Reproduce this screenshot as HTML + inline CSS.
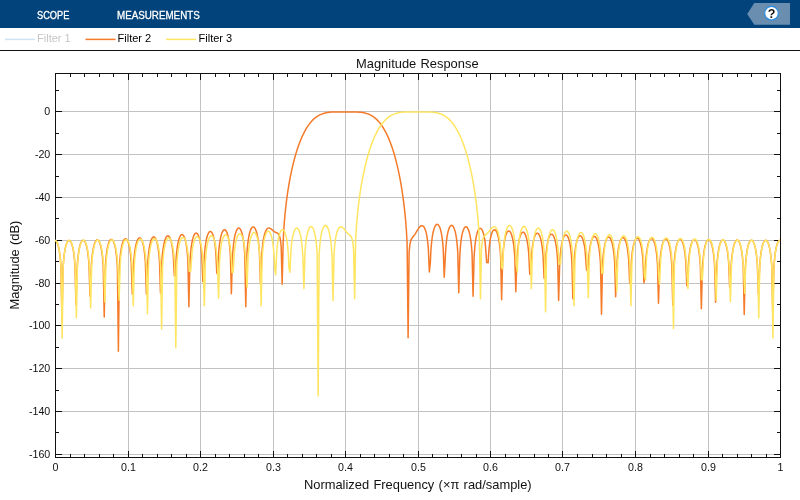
<!DOCTYPE html>
<html><head><meta charset="utf-8"><title>Magnitude Response</title>
<style>
html,body{margin:0;padding:0;}
body{width:800px;height:500px;background:#fff;overflow:hidden;position:relative;font-family:"Liberation Sans",sans-serif;}
#bar{position:absolute;left:0;top:0;width:800px;height:27.5px;background:#01437a;will-change:transform;}
.tab{position:absolute;top:8.5px;color:#fff;font-size:10.5px;line-height:12px;white-space:nowrap;transform-origin:0 50%;-webkit-text-stroke:0.3px #fff;}
#leg{position:absolute;left:0;top:27.5px;width:800px;height:22px;background:#fff;}
#sep{position:absolute;left:0;top:49.75px;width:800px;height:1.1px;background:#111;}
svg{position:absolute;left:0;top:0;will-change:transform;}
text{font-family:"Liberation Sans",sans-serif;}
</style></head><body>
<div id="bar">
<div class="tab" style="left:37.1px;transform:scaleX(0.88)">SCOPE</div>
<div class="tab" style="left:117px;transform:scaleX(0.933)">MEASUREMENTS</div>
</div>
<div id="leg"></div>
<div id="sep"></div>
<svg width="800" height="500" viewBox="0 0 800 500">
<!-- help tag -->
<path d="M747.2,13.9 L754.3,3 H790 V24.8 H754.3 Z" fill="#6a8eb0"/>
<circle cx="771.5" cy="13.2" r="6.8" fill="#fff" stroke="#2a8be0" stroke-width="1.2"/>
<text x="771.5" y="17.6" font-size="12.5" font-weight="bold" text-anchor="middle" fill="#111">?</text>
<!-- legend -->
<g font-size="11" >
<path d="M5,39.4 H35" stroke="#cfe3f6" stroke-width="1.5"/>
<text x="37.1" y="42.1" fill="#c6c6c6">Filter 1</text>
<path d="M85.5,39.4 H115.5" stroke="#f57a29" stroke-width="1.5"/>
<text x="117.6" y="42.1" fill="#000">Filter 2</text>
<path d="M166,39.4 H196" stroke="#ffe560" stroke-width="1.5"/>
<text x="198.6" y="42.1" fill="#000">Filter 3</text>
</g>
<!-- title/labels -->
<text x="417.3" y="67.7" font-size="12.9" word-spacing="0.7" text-anchor="middle" fill="#111">Magnitude Response</text>
<text x="417.8" y="488.8" font-size="12.9" word-spacing="0.7" text-anchor="middle" fill="#111">Normalized Frequency (×π rad/sample)</text>
<text transform="translate(19,265) rotate(-90)" font-size="12.9" word-spacing="0.7" text-anchor="middle" fill="#111">Magnitude (dB)</text>
<!-- grid -->
<path d="M128.5,73.5 V457.5 M200.5,73.5 V457.5 M273.5,73.5 V457.5 M345.5,73.5 V457.5 M418.5,73.5 V457.5 M490.5,73.5 V457.5 M562.5,73.5 V457.5 M635.5,73.5 V457.5 M708.5,73.5 V457.5 M55.5,111.5 H780.5 M55.5,154.5 H780.5 M55.5,197.5 H780.5 M55.5,240.5 H780.5 M55.5,283.5 H780.5 M55.5,325.5 H780.5 M55.5,368.5 H780.5 M55.5,411.5 H780.5 M55.5,454.5 H780.5" stroke="#c3c3c3" stroke-width="1" fill="none"/>
<path d="M70.5,457.5 v-3.5 M70.5,73.5 v3.5 M84.5,457.5 v-3.5 M84.5,73.5 v3.5 M99.5,457.5 v-3.5 M99.5,73.5 v3.5 M113.5,457.5 v-3.5 M113.5,73.5 v3.5 M128.5,457.5 v-6.5 M128.5,73.5 v6.5 M142.5,457.5 v-3.5 M142.5,73.5 v3.5 M157.5,457.5 v-3.5 M157.5,73.5 v3.5 M171.5,457.5 v-3.5 M171.5,73.5 v3.5 M186.5,457.5 v-3.5 M186.5,73.5 v3.5 M200.5,457.5 v-6.5 M200.5,73.5 v6.5 M215.5,457.5 v-3.5 M215.5,73.5 v3.5 M229.5,457.5 v-3.5 M229.5,73.5 v3.5 M244.5,457.5 v-3.5 M244.5,73.5 v3.5 M258.5,457.5 v-3.5 M258.5,73.5 v3.5 M273.5,457.5 v-6.5 M273.5,73.5 v6.5 M287.5,457.5 v-3.5 M287.5,73.5 v3.5 M302.5,457.5 v-3.5 M302.5,73.5 v3.5 M316.5,457.5 v-3.5 M316.5,73.5 v3.5 M331.5,457.5 v-3.5 M331.5,73.5 v3.5 M345.5,457.5 v-6.5 M345.5,73.5 v6.5 M360.5,457.5 v-3.5 M360.5,73.5 v3.5 M374.5,457.5 v-3.5 M374.5,73.5 v3.5 M389.5,457.5 v-3.5 M389.5,73.5 v3.5 M403.5,457.5 v-3.5 M403.5,73.5 v3.5 M418.5,457.5 v-6.5 M418.5,73.5 v6.5 M432.5,457.5 v-3.5 M432.5,73.5 v3.5 M447.5,457.5 v-3.5 M447.5,73.5 v3.5 M461.5,457.5 v-3.5 M461.5,73.5 v3.5 M476.5,457.5 v-3.5 M476.5,73.5 v3.5 M490.5,457.5 v-6.5 M490.5,73.5 v6.5 M505.5,457.5 v-3.5 M505.5,73.5 v3.5 M519.5,457.5 v-3.5 M519.5,73.5 v3.5 M534.5,457.5 v-3.5 M534.5,73.5 v3.5 M548.5,457.5 v-3.5 M548.5,73.5 v3.5 M562.5,457.5 v-6.5 M562.5,73.5 v6.5 M577.5,457.5 v-3.5 M577.5,73.5 v3.5 M592.5,457.5 v-3.5 M592.5,73.5 v3.5 M606.5,457.5 v-3.5 M606.5,73.5 v3.5 M621.5,457.5 v-3.5 M621.5,73.5 v3.5 M635.5,457.5 v-6.5 M635.5,73.5 v6.5 M650.5,457.5 v-3.5 M650.5,73.5 v3.5 M664.5,457.5 v-3.5 M664.5,73.5 v3.5 M679.5,457.5 v-3.5 M679.5,73.5 v3.5 M693.5,457.5 v-3.5 M693.5,73.5 v3.5 M708.5,457.5 v-6.5 M708.5,73.5 v6.5 M722.5,457.5 v-3.5 M722.5,73.5 v3.5 M737.5,457.5 v-3.5 M737.5,73.5 v3.5 M751.5,457.5 v-3.5 M751.5,73.5 v3.5 M766.5,457.5 v-3.5 M766.5,73.5 v3.5 M55.5,90.5 h3.5 M780.5,90.5 h-3.5 M55.5,111.5 h6.5 M780.5,111.5 h-6.5 M55.5,133.5 h3.5 M780.5,133.5 h-3.5 M55.5,154.5 h6.5 M780.5,154.5 h-6.5 M55.5,176.5 h3.5 M780.5,176.5 h-3.5 M55.5,197.5 h6.5 M780.5,197.5 h-6.5 M55.5,218.5 h3.5 M780.5,218.5 h-3.5 M55.5,240.5 h6.5 M780.5,240.5 h-6.5 M55.5,261.5 h3.5 M780.5,261.5 h-3.5 M55.5,283.5 h6.5 M780.5,283.5 h-6.5 M55.5,304.5 h3.5 M780.5,304.5 h-3.5 M55.5,325.5 h6.5 M780.5,325.5 h-6.5 M55.5,347.5 h3.5 M780.5,347.5 h-3.5 M55.5,368.5 h6.5 M780.5,368.5 h-6.5 M55.5,390.5 h3.5 M780.5,390.5 h-3.5 M55.5,411.5 h6.5 M780.5,411.5 h-6.5 M55.5,432.5 h3.5 M780.5,432.5 h-3.5 M55.5,454.5 h6.5 M780.5,454.5 h-6.5" stroke="#111" stroke-width="1" fill="none"/>
<rect x="55.5" y="73.5" width="725.0" height="384.0" fill="none" stroke="#111" stroke-width="1"/>
<clipPath id="cp"><rect x="54.9" y="73.5" width="726.2" height="384.0"/></clipPath>
<g clip-path="url(#cp)" fill="none" stroke-linejoin="round" stroke-linecap="butt">
<path d="M55,240.55 L55.5,240.66 L55.9,240.93 L56.3,241.34 L56.7,241.92 L57.5,243.6 L58.3,246.12 L58.9,248.7 L59.5,252.1 L60,255.81 L60.5,260.75 L60.98,267.57 L61.98,321.83 L62.98,269.63 L63.3,264.37 L63.6,260.53 L64,256.5 L64.5,252.62 L65,249.6 L65.6,246.79 L66.2,244.64 L66.8,243.02 L67.5,241.67 L67.9,241.14 L68.4,240.7 L68.8,240.52 L69.3,240.5 L69.8,240.71 L70.2,241.05 L70.6,241.55 L71,242.21 L71.8,244.09 L72.5,246.46 L73.2,249.71 L73.8,253.47 L74.5,259.7 L74.98,266.04 L75.98,304.7 L76.98,271.19 L77.5,262.6 L78.1,256.18 L78.8,251.04 L79.6,246.95 L80.1,245.05 L80.6,243.53 L81,242.56 L81.5,241.6 L81.9,241.03 L82.4,240.54 L82.8,240.33 L83.3,240.26 L83.8,240.43 L84.2,240.73 L84.7,241.33 L85.1,242 L85.9,243.89 L86.7,246.68 L87.4,250.09 L87.9,253.32 L88.3,256.59 L88.7,260.74 L88.99,264.54 L89.99,296.12 L91,272.39 L91.4,264.9 L91.7,260.85 L92.1,256.63 L92.5,253.32 L93,250.04 L93.6,246.99 L94.3,244.33 L95.1,242.18 L95.5,241.4 L95.9,240.79 L96.3,240.34 L96.7,240.05 L97.1,239.91 L97.6,239.94 L98.1,240.2 L98.5,240.58 L98.9,241.12 L99.3,241.84 L99.9,243.26 L100.5,245.16 L101.1,247.67 L101.6,250.34 L102,253 L102.4,256.28 L102.8,260.47 L103.1,264.49 L103.23,266.5 L104.23,316.92 L105.23,269 L105.7,261.49 L106.3,255.17 L106.9,250.71 L107.6,246.92 L108.4,243.82 L108.8,242.64 L109.3,241.46 L109.7,240.72 L110.2,240.03 L110.7,239.59 L111.2,239.39 L111.7,239.42 L112.2,239.68 L112.7,240.19 L113.2,240.94 L113.9,242.47 L114.6,244.65 L115.2,247.15 L115.8,250.45 L116.3,254.06 L116.7,257.76 L117.1,262.58 L117.38,266.97 L118.38,351.22 L119.38,267.27 L119.5,265.13 L119.9,259.56 L120.4,254.5 L121,250.06 L121.7,246.27 L122.5,243.17 L123.3,241.02 L123.7,240.23 L124.2,239.49 L124.6,239.08 L125.1,238.79 L125.5,238.71 L125.9,238.79 L126.3,239.02 L126.6,239.29 L127.3,240.27 L128,241.79 L128.7,243.96 L129.3,246.47 L129.8,249.15 L130.3,252.57 L130.8,257.07 L131.26,262.77 L132.26,294 L133.3,270.11 L133.7,262.79 L134,258.79 L134.4,254.62 L134.9,250.62 L135.4,247.51 L136.1,244.2 L136.9,241.48 L137.7,239.62 L138.1,238.96 L138.6,238.37 L139,238.07 L139.5,237.91 L140,237.97 L140.4,238.19 L140.9,238.69 L141.3,239.26 L141.7,240.01 L142.1,240.95 L142.6,242.41 L143.1,244.27 L143.9,248.27 L144.6,253.31 L145.2,259.62 L145.38,262.06 L146.38,294 L147.5,267.19 L147.9,260.52 L148.4,254.72 L149.1,249.06 L149.5,246.62 L150,244.14 L150.5,242.15 L151,240.56 L151.5,239.3 L152.1,238.17 L152.5,237.63 L152.9,237.25 L153.3,237.02 L153.8,236.94 L154.3,237.09 L154.7,237.37 L155.1,237.82 L155.5,238.43 L156.3,240.19 L157,242.43 L157.6,245.02 L158.2,248.44 L158.9,254.01 L159.49,261.03 L160.49,292.94 L161.6,266.4 L161.9,261.11 L162.3,255.89 L162.9,250.27 L163.6,245.63 L164.4,241.87 L164.8,240.43 L165.3,238.96 L166,237.43 L166.4,236.8 L166.8,236.32 L167.1,236.07 L167.5,235.87 L167.9,235.81 L168.3,235.9 L168.7,236.14 L169.1,236.53 L169.8,237.61 L170.5,239.26 L171.1,241.2 L171.7,243.75 L172.3,247.13 L172.8,250.83 L173.2,254.66 L173.3,255.82 L174.32,275.83 L175.33,275.74 L175.7,265.67 L176,260.25 L176.3,256.12 L177,249.23 L177.4,246.35 L177.9,243.45 L178.4,241.13 L179,238.94 L179.6,237.27 L180.3,235.87 L181,234.98 L181.3,234.75 L181.7,234.56 L182.1,234.53 L182.4,234.6 L182.8,234.82 L183.1,235.09 L183.8,236.07 L184.5,237.59 L185.1,239.41 L185.7,241.81 L186.2,244.38 L186.7,247.65 L187.1,250.98 L187.5,255.23 L187.87,260.5 L188.87,306.85 L189.87,263.55 L190.4,255.18 L191.1,248.13 L191.6,244.55 L192.1,241.73 L192.6,239.47 L193.2,237.33 L193.8,235.71 L194.5,234.34 L194.9,233.8 L195.3,233.41 L195.7,233.17 L196.1,233.08 L196.5,233.13 L196.9,233.34 L197.3,233.69 L197.6,234.06 L198,234.7 L198.4,235.52 L199.1,237.44 L199.7,239.68 L200.3,242.62 L200.7,245.11 L201.1,248.16 L201.79,255.51 L202.79,281.4 L203.79,267.51 L204.1,260.5 L204.4,255.66 L204.7,251.87 L205.1,247.88 L205.7,243.34 L206.4,239.46 L207.2,236.27 L207.6,235.04 L208.1,233.81 L208.8,232.55 L209.2,232.06 L209.6,231.72 L210,231.53 L210.4,231.48 L210.8,231.58 L211.2,231.83 L211.6,232.24 L212,232.81 L212.7,234.22 L213.4,236.26 L214,238.63 L214.5,241.16 L215,244.39 L215.4,247.67 L215.83,252.16 L216.83,273.28 L217.83,270.03 L218.3,258.4 L218.9,249.95 L219.3,246.01 L219.7,242.88 L220.2,239.73 L220.7,237.23 L221.3,234.86 L221.9,233.04 L222.6,231.48 L223.3,230.45 L223.6,230.15 L224,229.89 L224.4,229.77 L224.8,229.8 L225.2,229.98 L225.5,230.21 L226.2,231.09 L226.8,232.26 L227.4,233.87 L227.9,235.62 L228.4,237.81 L228.9,240.57 L229.3,243.33 L230,249.95 L230.37,254.94 L231.37,293.79 L232.37,259.81 L232.9,250.96 L233.6,243.7 L234.1,240.02 L234.7,236.63 L235.4,233.65 L236.1,231.45 L236.9,229.68 L237.3,229.06 L237.7,228.59 L238.1,228.28 L238.5,228.11 L239,228.1 L239.4,228.25 L239.8,228.55 L240.2,229.01 L240.6,229.62 L241,230.41 L241.7,232.25 L242.4,234.81 L243,237.74 L243.5,240.9 L244,245.01 L244.4,249.33 L244.78,254.82 L245.78,306.63 L246.78,257.04 L247.1,251.63 L247.4,247.76 L247.8,243.69 L248.2,240.47 L248.7,237.25 L249.3,234.24 L249.9,231.92 L250.5,230.14 L251.2,228.61 L251.6,227.97 L252.1,227.38 L252.5,227.08 L253,226.9 L253.5,226.93 L253.9,227.11 L254.4,227.53 L254.8,228.02 L255.6,229.49 L256.4,231.66 L257.1,234.28 L257.8,237.79 L258.3,241.05 L258.7,244.31 L259.1,248.39 L259.43,252.69 L260.43,283.16 L261.6,258.3 L261.9,253.25 L262.3,248.25 L262.9,242.86 L263.6,238.41 L264.4,234.8 L264.8,233.41 L265.3,231.97 L265.7,231.03 L266.2,230.07 L266.7,229.33 L267.2,228.77 L267.7,228.38 L268.3,228.12 L268.8,228.04 L269.4,228.09 L270.2,228.39 L271,228.87 L273.7,231.09 L274.7,231.81 L275.5,232.27 L277.1,233 L277.7,233.35 L278.4,233.98 L279,234.87 L279.4,235.74 L279.7,236.61 L280.3,239.13 L280.8,242.52 L281.16,246.23 L282.16,284.19 L283.16,242.46 L283.5,235.03 L284,226.72 L284.7,217.71 L285.5,209.45 L286.5,200.87 L287.7,192.18 L289.1,183.51 L290.7,174.97 L292.4,167.09 L294.2,159.8 L296.1,153.06 L298.1,146.85 L300.3,140.91 L302.3,136.21 L304.3,132.1 L306.5,128.2 L308.7,124.86 L309.8,123.39 L311,121.92 L312.2,120.59 L313.4,119.39 L314.6,118.31 L315.9,117.27 L317.2,116.35 L318.5,115.55 L320.9,114.35 L323.4,113.43 L326.1,112.74 L329.1,112.28 L331.9,112.04 L335.3,111.92 L350.8,111.89 L356.4,111.96 L360.5,112.24 L362.3,112.47 L364,112.77 L365.6,113.15 L367.2,113.63 L368.7,114.19 L370.2,114.86 L371.7,115.67 L373.1,116.56 L374.5,117.58 L375.8,118.66 L377.1,119.87 L378.3,121.12 L379.6,122.63 L380.9,124.3 L382.2,126.15 L383.4,128.02 L384.6,130.06 L385.8,132.29 L387,134.7 L388.1,137.1 L390.3,142.45 L392.4,148.36 L394.4,154.81 L396.3,161.82 L398.1,169.42 L399.7,177.13 L401.2,185.38 L402.5,193.59 L403.7,202.34 L404.8,211.84 L405.7,221.29 L406.4,230.51 L407.11,243.46 L408.11,337.84 L409.11,252.31 L409.6,246.95 L410,244.16 L410.5,241.79 L411,240.18 L411.7,238.66 L412.4,237.59 L414,235.58 L414.9,234.34 L417.9,229.42 L419,227.8 L419.7,226.96 L420.3,226.38 L420.9,225.96 L421.5,225.72 L421.9,225.67 L422.3,225.7 L422.7,225.84 L423.1,226.09 L423.5,226.44 L423.9,226.93 L424.6,228.1 L425.3,229.77 L425.9,231.68 L426.5,234.15 L427,236.79 L427.7,241.73 L428.34,248.41 L429.34,272.01 L430.34,262.71 L430.8,252.46 L431.1,247.97 L431.5,243.36 L431.9,239.76 L432.3,236.85 L432.7,234.44 L433.2,231.96 L433.9,229.27 L434.7,227.03 L435.5,225.52 L435.9,225 L436.3,224.63 L436.7,224.4 L437.2,224.31 L437.6,224.39 L438,224.61 L438.4,224.97 L438.8,225.48 L439.6,226.98 L440.1,228.28 L440.6,229.91 L441.4,233.38 L442.2,238.35 L442.8,243.67 L443.22,248.78 L444.22,277.22 L445.5,253.15 L445.8,248.44 L446.1,244.75 L446.5,240.87 L446.9,237.79 L447.4,234.72 L448,231.86 L448.7,229.37 L449.4,227.57 L449.8,226.81 L450.2,226.21 L450.6,225.77 L451,225.49 L451.4,225.34 L451.9,225.37 L452.3,225.55 L452.7,225.87 L453.1,226.35 L453.5,226.98 L454.1,228.25 L454.7,229.94 L455.3,232.15 L455.8,234.49 L456.3,237.4 L456.7,240.28 L457.4,247.17 L457.75,252.12 L458.75,292.66 L459.75,256.98 L460.3,248.17 L460.7,243.79 L461.1,240.39 L461.7,236.47 L462.4,233.11 L463.1,230.66 L463.9,228.7 L464.3,228.01 L464.7,227.48 L465.1,227.1 L465.6,226.85 L466.1,226.82 L466.5,226.95 L467,227.33 L467.4,227.8 L468.1,229.01 L468.7,230.48 L469.3,232.42 L469.9,234.93 L470.4,237.59 L470.9,240.94 L471.3,244.32 L471.7,248.61 L472.07,253.8 L473.07,296.3 L474.07,258.14 L474.4,252.35 L474.9,246.25 L475.6,240.42 L476.4,235.89 L476.9,233.8 L477.4,232.13 L478,230.6 L478.7,229.34 L479.4,228.59 L479.8,228.37 L480.2,228.3 L480.6,228.37 L480.9,228.51 L481.3,228.84 L481.6,229.18 L482.3,230.33 L483,232.02 L483.6,233.98 L484.2,236.52 L484.7,239.2 L485.2,242.63 L486.7,262.52 L488.2,262.66 L488.6,254.9 L489.2,247.4 L489.9,241.65 L490.3,239.2 L490.8,236.73 L491.3,234.75 L491.8,233.18 L492.4,231.74 L493,230.71 L493.6,230.05 L494.2,229.73 L494.5,229.7 L494.9,229.78 L495.5,230.17 L496.2,231.06 L496.9,232.45 L497.6,234.43 L498.2,236.69 L498.8,239.62 L499.3,242.75 L499.7,245.88 L500.1,249.81 L500.61,256.65 L501.61,299.73 L502.61,260.82 L503,254.19 L503.4,249.37 L503.8,245.67 L504.2,242.72 L504.7,239.78 L505.3,237.04 L505.9,234.96 L506.6,233.17 L507.3,231.95 L507.6,231.59 L508,231.24 L508.4,231.04 L508.9,230.99 L509.3,231.12 L509.7,231.39 L510.1,231.81 L510.5,232.39 L511.3,234.05 L512,236.15 L512.7,239.01 L513.3,242.27 L513.8,245.78 L514.3,250.38 L514.8,256.77 L515.8,291.8 L516.8,263.47 L517.2,256.27 L517.7,250.16 L518.4,244.33 L518.8,241.84 L519.3,239.33 L519.8,237.33 L520.3,235.73 L520.8,234.48 L521.4,233.36 L522.1,232.53 L522.5,232.26 L522.9,232.15 L523.3,232.18 L523.7,232.35 L524.1,232.67 L524.4,233.01 L525.1,234.15 L525.8,235.84 L526.4,237.79 L527,240.33 L527.5,243.03 L528,246.43 L528.4,249.88 L528.75,253.65 L529.75,274.17 L530.75,273.29 L531.2,261.7 L531.8,252.98 L532.2,248.99 L532.7,245.14 L533.2,242.16 L533.8,239.39 L534.4,237.27 L535,235.68 L535.7,234.36 L536.4,233.55 L536.7,233.35 L537.1,233.21 L537.5,233.21 L537.9,233.36 L538.3,233.65 L538.6,233.97 L539.3,235.07 L539.8,236.17 L540.3,237.58 L540.8,239.35 L541.2,241.06 L542,245.57 L542.6,250.31 L543.09,255.59 L544.09,278.27 L545.09,271.76 L545.5,261.97 L545.8,257.23 L546.2,252.46 L546.9,246.54 L547.7,241.94 L548.3,239.45 L548.9,237.55 L549.5,236.13 L550.2,234.98 L550.5,234.65 L550.9,234.33 L551.2,234.19 L551.6,234.14 L552,234.22 L552.3,234.38 L552.7,234.73 L553,235.08 L553.7,236.27 L554.3,237.73 L554.9,239.65 L555.5,242.16 L556,244.82 L556.4,247.44 L556.8,250.65 L557.2,254.7 L557.63,260.55 L558.63,300.59 L559.63,265.46 L559.9,260.53 L560.3,255.12 L561,248.6 L561.8,243.62 L562.3,241.33 L562.8,239.5 L563.4,237.8 L564,236.54 L564.4,235.93 L564.9,235.38 L565.3,235.11 L565.8,234.99 L566.3,235.09 L566.7,235.33 L567.2,235.84 L567.6,236.43 L568.1,237.4 L568.5,238.39 L569.3,241 L570,244.17 L570.6,247.8 L571.3,253.73 L571.87,261.03 L572.87,298.66 L573.87,266.7 L574.4,257.94 L574.9,252.45 L575.6,247.07 L576.4,242.82 L576.9,240.85 L577.4,239.28 L578,237.83 L578.7,236.66 L579,236.31 L579.4,235.98 L579.7,235.83 L580.1,235.75 L580.5,235.83 L580.8,235.97 L581.2,236.3 L581.5,236.65 L582.2,237.81 L582.9,239.51 L583.5,241.49 L584.1,244.07 L584.6,246.81 L585.1,250.26 L586.56,270.1 L588.02,270.17 L588.4,262.55 L588.9,255.86 L589.6,249.6 L590.4,244.78 L590.9,242.55 L591.4,240.77 L591.9,239.36 L592.5,238.08 L593.1,237.19 L593.7,236.65 L594.3,236.45 L594.9,236.57 L595.3,236.83 L595.7,237.24 L596.1,237.81 L596.5,238.55 L597.2,240.28 L597.9,242.67 L598.5,245.4 L599.1,248.98 L599.6,252.89 L600,256.94 L600.49,263.76 L601.49,314.34 L602.49,266.41 L603.1,257.28 L603.5,253.22 L604,249.31 L604.6,245.76 L605.2,243.06 L605.9,240.71 L606.6,239.02 L607,238.31 L607.4,237.77 L607.8,237.39 L608.2,237.15 L608.6,237.06 L609,237.12 L609.4,237.32 L609.8,237.66 L610.2,238.16 L610.6,238.83 L611.3,240.41 L612,242.63 L612.6,245.16 L613.2,248.46 L613.7,252.04 L614.2,256.75 L614.64,262.47 L615.64,296.74 L616.7,268.18 L617.1,261.3 L617.6,255.39 L618.3,249.68 L618.7,247.23 L619.2,244.75 L619.7,242.77 L620.2,241.19 L620.7,239.94 L621.3,238.83 L622,238 L622.4,237.74 L622.8,237.62 L623.2,237.65 L623.6,237.82 L624,238.14 L624.4,238.61 L625.1,239.83 L625.8,241.6 L626.5,244.05 L627.1,246.85 L627.6,249.83 L628,252.81 L628.7,260.04 L629.7,283.22 L630.7,275.45 L631,268.1 L631.3,262.86 L631.8,256.62 L632.3,252.15 L632.9,248.15 L633.6,244.71 L634.4,241.9 L635.2,239.97 L635.6,239.28 L636,238.76 L636.4,238.39 L636.8,238.18 L637.2,238.1 L637.6,238.18 L638,238.39 L638.4,238.76 L638.8,239.28 L639.2,239.96 L639.9,241.59 L640.6,243.86 L641.2,246.45 L641.7,249.2 L642.2,252.7 L642.6,256.25 L642.96,260.26 L643.96,282.8 L644.96,276.52 L645.4,266.14 L645.7,261.49 L646.1,256.8 L646.7,251.65 L647.5,246.85 L648.1,244.25 L648.7,242.26 L649.3,240.76 L650,239.54 L650.3,239.17 L650.7,238.81 L651,238.64 L651.4,238.54 L651.8,238.59 L652.2,238.77 L652.6,239.11 L652.9,239.46 L653.6,240.64 L654.2,242.09 L654.8,244.01 L655.4,246.51 L655.9,249.17 L656.3,251.8 L656.7,255.02 L657.1,259.1 L657.5,264.57 L658.5,303.19 L659.5,269.85 L659.8,264.43 L660.1,260.26 L660.5,255.96 L660.9,252.59 L661.5,248.69 L662.1,245.75 L662.8,243.17 L663.5,241.31 L663.9,240.52 L664.3,239.89 L664.7,239.43 L665.2,239.06 L665.6,238.93 L666.1,238.97 L666.5,239.17 L666.9,239.52 L667.6,240.49 L668.3,241.99 L668.9,243.76 L669.5,246.08 L670,248.54 L670.5,251.63 L670.9,254.73 L671.3,258.62 L671.79,265.14 L672.79,305.33 L673.79,269.93 L674.2,262.91 L674.7,257.03 L675.4,251.33 L676.2,246.87 L676.7,244.79 L677.2,243.13 L678,241.18 L678.4,240.48 L678.8,239.94 L679.2,239.56 L679.7,239.3 L680.2,239.26 L680.6,239.39 L681.1,239.77 L681.5,240.23 L681.9,240.86 L682.3,241.66 L683.1,243.83 L683.8,246.51 L684.4,249.56 L684.9,252.84 L685.4,257.11 L685.8,261.61 L686.82,285.8 L687.82,276.33 L688.2,267.62 L688.8,259.16 L689.4,253.62 L690.1,249.05 L690.6,246.6 L691.2,244.29 L691.8,242.54 L692.4,241.23 L693.1,240.2 L693.4,239.91 L693.8,239.65 L694.1,239.55 L694.5,239.55 L694.9,239.69 L695.2,239.89 L695.6,240.29 L696,240.84 L696.7,242.22 L697.4,244.18 L698,246.45 L698.6,249.39 L699.1,252.55 L699.5,255.73 L699.9,259.74 L700.36,266.01 L701.36,308.75 L702.36,270.1 L702.9,261.5 L703.6,254.47 L704.4,249.18 L704.9,246.75 L705.4,244.8 L706,242.98 L706.6,241.62 L707,240.93 L707.5,240.31 L707.9,239.98 L708.4,239.78 L708.9,239.81 L709.4,240.06 L709.9,240.54 L710.3,241.11 L711.1,242.74 L711.9,245.18 L712.6,248.16 L713.3,252.24 L714,258.06 L714.59,265.47 L715.59,302.33 L716.59,271.32 L716.9,265.6 L717.2,261.42 L717.8,255.31 L718.5,250.38 L719.3,246.43 L719.7,244.92 L720.2,243.38 L721,241.59 L721.4,240.95 L721.9,240.39 L722.3,240.11 L722.7,239.97 L723.2,240 L723.6,240.19 L724.1,240.64 L724.5,241.17 L724.9,241.87 L725.3,242.74 L726,244.74 L726.7,247.49 L727.3,250.63 L727.8,254.03 L728.3,258.46 L728.67,262.76 L729.67,287.31 L730.67,276.47 L731,268.82 L731.5,261.31 L732.1,255.29 L732.8,250.41 L733.3,247.8 L733.9,245.35 L734.5,243.48 L735.1,242.07 L735.7,241.07 L736,240.71 L736.4,240.36 L736.7,240.2 L737.1,240.1 L737.5,240.16 L737.8,240.29 L738.2,240.6 L738.6,241.06 L739,241.68 L739.4,242.47 L740.1,244.31 L740.8,246.85 L741.4,249.75 L741.9,252.85 L742.4,256.86 L742.8,261.04 L743.22,266.99 L744.22,314.56 L745.22,270.05 L745.4,266.79 L745.9,260.01 L746.6,253.67 L747.4,248.78 L747.8,246.93 L748.3,245.04 L748.7,243.8 L749.2,242.56 L749.6,241.77 L750.1,241.02 L750.5,240.61 L751,240.29 L751.5,240.21 L752,240.35 L752.5,240.72 L752.9,241.19 L753.4,242 L753.8,242.84 L754.6,245.12 L755.4,248.4 L756,251.75 L756.5,255.4 L756.9,259.14 L757.33,264.43 L758.33,293.97 L759.8,264.95 L760.3,258.78 L761,252.87 L761.5,249.79 L762,247.34 L762.6,245.04 L763.3,243.04 L764,241.63 L764.7,240.74 L765,240.5 L765.4,240.32 L765.8,240.27 L766.2,240.37 L766.6,240.62 L767,241.02 L767.4,241.57 L767.8,242.29 L768.5,243.99 L769.2,246.36 L769.8,249.06 L770.4,252.6 L770.9,256.49 L771.3,260.52 L771.78,267.17 L772.78,315.41 L773.78,270.1 L774.1,264.67 L774.6,258.6 L775.1,254.2 L775.6,250.84 L776.2,247.72 L776.9,245 L777.6,243.01 L778,242.15 L778.4,241.47 L778.8,240.95 L779.2,240.58 L779.6,240.36 L780,240.29" stroke="#f57a29" stroke-width="1.5"/>
<path d="M55,240.38 L55.5,240.49 L55.9,240.75 L56.4,241.28 L56.8,241.89 L57.3,242.89 L57.7,243.91 L58.5,246.61 L59.2,249.9 L59.8,253.72 L60.3,257.95 L60.8,263.74 L61.13,269.01 L62.13,338.35 L63.13,268.15 L63.2,266.92 L63.6,261.29 L64,257.09 L64.5,253.06 L65.1,249.4 L65.8,246.23 L66.5,243.91 L67.3,242.06 L67.7,241.41 L68.2,240.82 L68.6,240.52 L69.1,240.35 L69.6,240.41 L70,240.63 L70.5,241.1 L70.9,241.66 L71.4,242.6 L71.8,243.56 L72.6,246.12 L73.3,249.26 L73.9,252.87 L74.5,257.78 L75,263.53 L75.39,269.84 L76.39,317.77 L77.39,267.26 L77.7,262.58 L78.1,258.06 L78.5,254.54 L79,251.08 L79.6,247.88 L80.2,245.44 L80.9,243.31 L81.6,241.8 L82,241.18 L82.4,240.73 L82.8,240.42 L83.2,240.26 L83.7,240.27 L84.1,240.44 L84.6,240.87 L85,241.38 L85.4,242.06 L85.8,242.91 L86.5,244.89 L87.2,247.62 L87.8,250.75 L88.4,254.91 L89.1,261.95 L89.64,270.68 L90.64,307.9 L91.64,266.31 L92,261.31 L92.4,257.04 L92.8,253.7 L93.2,250.99 L93.7,248.25 L94.3,245.68 L94.9,243.72 L95.5,242.24 L96.2,241.03 L96.6,240.56 L97,240.25 L97.4,240.09 L97.9,240.09 L98.4,240.32 L98.8,240.67 L99.2,241.18 L99.6,241.85 L100.4,243.74 L101.1,246.11 L101.7,248.83 L102.3,252.4 L102.8,256.33 L103.2,260.41 L103.8,269.38 L104.9,301.91 L105.9,265.4 L106.1,262.48 L106.7,256 L107.4,250.82 L107.8,248.57 L108.3,246.27 L108.8,244.43 L109.3,242.96 L109.7,242.02 L110.2,241.09 L110.6,240.54 L111.1,240.08 L111.6,239.84 L112.1,239.84 L112.6,240.06 L113,240.4 L113.5,241.06 L113.9,241.77 L114.7,243.74 L115.5,246.63 L116.2,250.15 L116.7,253.49 L117.2,257.86 L117.6,262.5 L117.9,267.07 L118.12,271.39 L119.12,300.18 L120.12,264.91 L120.7,257.69 L121.4,251.89 L122,248.32 L122.7,245.22 L123.5,242.68 L124.3,240.96 L124.7,240.36 L125.2,239.84 L125.6,239.59 L126.1,239.49 L126.6,239.61 L127,239.87 L127.5,240.42 L127.9,241.04 L128.5,242.29 L129.1,243.99 L129.6,245.82 L130.1,248.11 L130.6,250.98 L131,253.84 L131.7,260.73 L132.28,270 L133.28,305.76 L134.28,265.29 L134.7,259.59 L135.3,253.81 L135.9,249.66 L136.5,246.54 L137.2,243.8 L138,241.58 L138.4,240.76 L138.8,240.12 L139.2,239.63 L139.7,239.24 L140.1,239.1 L140.6,239.13 L141.1,239.38 L141.5,239.75 L142.2,240.79 L142.9,242.36 L143.5,244.22 L144.1,246.66 L144.6,249.26 L145.1,252.56 L145.5,255.91 L145.9,260.17 L146.45,268.63 L147.45,313.68 L148.45,265.6 L148.8,260.46 L149.3,255.15 L149.9,250.52 L150.5,247.07 L151.2,244.07 L152,241.61 L152.8,239.96 L153.2,239.39 L153.7,238.9 L154.1,238.68 L154.6,238.6 L155.1,238.76 L155.5,239.05 L155.9,239.49 L156.3,240.1 L157,241.58 L157.7,243.68 L158.4,246.58 L159,249.91 L159.5,253.55 L159.9,257.28 L160.3,262.15 L160.61,267.21 L161.61,328.92 L162.61,265.87 L163.2,257.7 L163.7,252.98 L164.4,248.19 L165.1,244.74 L165.9,241.91 L166.3,240.84 L166.8,239.77 L167.2,239.11 L167.7,238.52 L168.2,238.16 L168.7,238.03 L169.2,238.13 L169.7,238.47 L170.2,239.04 L170.6,239.68 L171.4,241.5 L172.2,244.19 L172.9,247.48 L173.5,251.31 L174,255.56 L174.4,260.07 L174.8,266.19 L175.8,347.77 L176.8,265.61 L177.2,259.56 L177.6,255.11 L178.2,250.16 L178.8,246.51 L179.5,243.34 L180.3,240.73 L181.1,238.96 L181.5,238.34 L182,237.78 L182.6,237.43 L183,237.38 L183.3,237.43 L183.9,237.79 L184.5,238.5 L185.1,239.58 L185.7,241.08 L186.2,242.71 L186.7,244.75 L187.2,247.3 L187.6,249.83 L188.3,255.78 L188.9,263.62 L189.28,271.32 L190.71,271.24 L192.15,251.38 L192.6,248.17 L193.2,244.83 L193.8,242.27 L194.4,240.31 L195.1,238.62 L195.8,237.48 L196.1,237.14 L196.5,236.82 L196.8,236.68 L197.2,236.62 L197.6,236.71 L198,236.94 L198.7,237.72 L199.4,239.01 L200,240.57 L200.5,242.27 L201,244.39 L201.8,248.98 L202.5,254.89 L203,261.09 L203.31,266.55 L204.31,305.76 L205.31,262.49 L205.7,257.04 L206.1,252.82 L206.5,249.49 L206.9,246.79 L207.4,244.05 L208,241.48 L208.6,239.5 L209.2,238.01 L209.9,236.78 L210.3,236.3 L210.8,235.92 L211.2,235.78 L211.7,235.82 L212.2,236.08 L212.6,236.46 L213,236.99 L213.4,237.7 L214.2,239.67 L214.9,242.14 L215.5,244.97 L216.1,248.73 L216.5,251.97 L216.9,256.08 L217.5,265.19 L218.57,298.25 L219.57,260.84 L219.9,256.25 L220.6,249.41 L221,246.55 L221.5,243.67 L222,241.37 L222.5,239.52 L223.1,237.78 L223.7,236.49 L224.4,235.46 L224.7,235.17 L225.1,234.92 L225.5,234.81 L225.9,234.85 L226.3,235.03 L226.6,235.26 L227.3,236.16 L228,237.57 L228.6,239.27 L229.2,241.52 L229.7,243.91 L230.2,246.94 L230.6,249.99 L231,253.82 L231.6,262.09 L232.04,272.4 L233.21,272.31 L234.4,252.03 L234.8,248.46 L235.3,244.95 L235.9,241.69 L236.5,239.2 L237.1,237.28 L237.8,235.63 L238.5,234.52 L238.8,234.2 L239.2,233.9 L239.5,233.77 L239.9,233.73 L240.3,233.83 L240.6,234 L241,234.36 L241.3,234.74 L242,235.98 L242.5,237.22 L243,238.8 L243.8,242.21 L244.5,246.43 L245.1,251.52 L245.5,256.15 L245.8,260.74 L247.08,287.32 L248.08,257.25 L248.6,251 L249.3,245.17 L249.8,242.11 L250.4,239.24 L251.1,236.72 L251.8,234.88 L252.2,234.09 L252.6,233.47 L253,233.01 L253.4,232.7 L253.8,232.54 L254.2,232.52 L254.6,232.65 L255,232.93 L255.7,233.79 L256.4,235.17 L257.1,237.16 L257.7,239.47 L258.3,242.51 L258.8,245.8 L259.2,249.14 L259.6,253.41 L260.14,261.79 L261.14,305.76 L262.14,258.49 L262.4,254.56 L263.1,247.07 L263.6,243.31 L264.1,240.36 L264.7,237.59 L265.3,235.46 L265.9,233.83 L266.6,232.46 L267.3,231.6 L267.6,231.37 L268,231.2 L268.4,231.17 L268.8,231.29 L269.2,231.56 L269.5,231.86 L270.2,232.91 L270.9,234.52 L271.5,236.42 L272.1,238.92 L272.9,243.54 L273.5,248.5 L273.9,253.01 L274.2,257.43 L274.69,268.59 L275.69,274.88 L276.69,252.24 L277.2,246.74 L277.8,242.03 L278.6,237.56 L279,235.85 L279.5,234.09 L279.9,232.93 L280.4,231.77 L281.1,230.6 L281.5,230.16 L281.9,229.86 L282.3,229.71 L282.7,229.71 L283.1,229.85 L283.4,230.05 L284.1,230.86 L284.8,232.19 L285.5,234.12 L286.1,236.36 L286.6,238.76 L287.1,241.79 L287.5,244.85 L287.9,248.7 L288.5,257.04 L288.95,267.87 L289.95,272.31 L290.95,250.41 L291.3,246.52 L291.7,242.97 L292.1,240.09 L292.6,237.19 L293.2,234.46 L293.9,232.05 L294.6,230.3 L295.3,229.1 L295.7,228.63 L296.1,228.32 L296.5,228.15 L296.9,228.12 L297.3,228.24 L297.7,228.51 L298.4,229.35 L299,230.48 L299.5,231.75 L300,233.36 L300.5,235.39 L301,237.94 L301.4,240.46 L302.1,246.41 L302.6,252.69 L302.95,259.12 L303.95,288.6 L304.95,252.69 L305.4,246.8 L306,241.22 L306.5,237.76 L307.1,234.54 L307.8,231.71 L308.5,229.63 L309.3,227.97 L309.7,227.39 L310.1,226.97 L310.5,226.7 L310.9,226.57 L311.3,226.58 L311.7,226.74 L312.2,227.14 L312.6,227.64 L313.1,228.49 L313.5,229.37 L314.3,231.74 L315.1,235.16 L315.7,238.68 L316.3,243.46 L316.8,249.03 L317.15,254.52 L318.15,396.01 L319.15,254.37 L319.7,246.45 L320.3,240.65 L321.1,235.33 L321.5,233.32 L322,231.25 L322.5,229.58 L323,228.25 L323.5,227.21 L324.1,226.31 L324.6,225.81 L325.2,225.51 L325.8,225.52 L326.4,225.84 L327,226.48 L327.5,227.27 L328,228.31 L328.5,229.64 L329,231.29 L329.5,233.33 L330.3,237.64 L330.8,241.25 L331.3,245.98 L331.7,251.04 L332.04,256.82 L333.04,300.61 L334.04,253.97 L334.6,246.52 L335.2,241.19 L336,236.27 L336.4,234.41 L336.9,232.5 L337.4,230.96 L337.9,229.72 L338.4,228.74 L339,227.87 L339.6,227.27 L340.2,226.92 L340.8,226.79 L341.5,226.88 L342,227.09 L342.5,227.4 L343.5,228.29 L344.3,229.2 L346.3,231.73 L347.3,232.9 L348.2,233.79 L349.8,235.13 L350.4,235.72 L350.9,236.36 L351.4,237.24 L351.8,238.21 L352.2,239.51 L352.8,242.47 L353.3,246.53 L353.64,250.81 L354.64,298.68 L355.64,240.35 L356.1,231.73 L356.6,224.44 L357.2,217.25 L357.9,210.17 L358.7,203.21 L359.7,195.64 L360.7,188.98 L361.8,182.44 L363,176.04 L364.3,169.82 L365.7,163.78 L367.2,157.98 L368.8,152.42 L370.4,147.45 L372.1,142.71 L373.9,138.25 L375.7,134.29 L377.6,130.61 L379.6,127.23 L381.6,124.31 L383.7,121.69 L385.8,119.48 L388,117.58 L390.3,115.97 L392.7,114.67 L394,114.1 L395.3,113.63 L397.3,113.04 L399.4,112.6 L401.7,112.27 L404.2,112.05 L409.3,111.9 L423.7,111.89 L429.2,111.97 L433.2,112.26 L435,112.5 L436.7,112.81 L438.3,113.2 L439.8,113.66 L441.3,114.23 L442.8,114.91 L444.2,115.67 L445.6,116.55 L447,117.58 L448.3,118.66 L449.6,119.87 L450.8,121.13 L452,122.51 L453.2,124.04 L454.4,125.71 L455.6,127.54 L457.8,131.34 L460,135.77 L461.3,138.72 L462.6,141.93 L463.8,145.15 L465,148.64 L466.2,152.42 L467.3,156.18 L469.4,164.19 L471.4,173.09 L473.2,182.44 L474.8,192.22 L476.2,202.4 L477.2,211.12 L478.1,220.68 L478.8,230.14 L479.4,241.19 L479.48,242.99 L480.48,298.68 L481.48,249.14 L481.9,244.66 L482.4,241.31 L482.8,239.51 L483.2,238.21 L483.7,237.04 L484.3,236.08 L485,235.32 L486.7,233.88 L487.7,232.9 L488.7,231.73 L490.7,229.2 L491.6,228.19 L492.6,227.33 L493.5,226.88 L493.9,226.8 L494.3,226.8 L494.7,226.88 L495.1,227.07 L495.8,227.64 L496.5,228.58 L497.1,229.72 L497.7,231.24 L498.3,233.21 L498.8,235.3 L499.3,237.9 L499.7,240.46 L500.1,243.62 L500.5,247.62 L501.1,256.4 L501.53,267.53 L502.53,268.68 L503.6,247.11 L504,242.98 L504.4,239.7 L504.9,236.41 L505.5,233.33 L506.2,230.59 L506.9,228.55 L507.6,227.09 L508,226.48 L508.4,226.02 L508.8,225.7 L509.2,225.52 L509.6,225.48 L510,225.58 L510.4,225.81 L510.8,226.19 L511.2,226.72 L511.6,227.4 L512.1,228.5 L512.5,229.58 L513.3,232.44 L514.1,236.47 L514.7,240.65 L515.2,245.33 L515.6,250.36 L516,257.46 L516.24,263.48 L517.24,271.89 L518.24,248.57 L518.6,244.43 L519,240.87 L519.4,238.02 L519.9,235.16 L520.5,232.48 L521.2,230.15 L521.9,228.49 L522.6,227.37 L523,226.95 L523.4,226.69 L523.8,226.57 L524.2,226.59 L524.6,226.75 L525,227.06 L525.7,227.97 L526.3,229.15 L526.9,230.74 L527.4,232.44 L527.9,234.54 L528.4,237.16 L528.8,239.73 L529.5,245.72 L530,251.96 L530.38,258.95 L531.38,288.6 L532.38,252.93 L532.9,246.41 L533.6,240.46 L534.2,236.85 L534.9,233.73 L535.7,231.2 L536.5,229.51 L536.9,228.93 L537.3,228.51 L537.7,228.24 L538.2,228.12 L538.7,228.21 L539.1,228.45 L539.6,228.97 L540,229.55 L540.7,230.98 L541.4,232.99 L542,235.29 L542.6,238.27 L543.1,241.46 L543.6,245.56 L544,249.82 L544.3,253.93 L544.54,258.06 L545.54,311.75 L546.54,256.35 L546.9,251.04 L547.3,246.65 L547.8,242.5 L548.3,239.31 L548.9,236.36 L549.6,233.8 L550.3,231.97 L551,230.72 L551.4,230.23 L551.8,229.91 L552.4,229.69 L552.8,229.74 L553.1,229.86 L553.7,230.36 L554.3,231.21 L554.9,232.43 L555.4,233.78 L555.9,235.46 L556.4,237.56 L556.9,240.16 L557.3,242.72 L558,248.69 L558.6,256.45 L558.98,264.01 L560.47,264.16 L561.96,244.57 L562.5,241.01 L563,238.45 L563.6,236.06 L564.2,234.25 L564.9,232.73 L565.6,231.75 L565.9,231.48 L566.3,231.25 L566.7,231.17 L567.1,231.23 L567.5,231.44 L567.9,231.8 L568.6,232.8 L569.3,234.32 L569.9,236.11 L570.4,238 L570.9,240.36 L571.7,245.45 L572.4,252.05 L572.9,259.17 L573.03,261.62 L574.03,305.76 L575.03,258.69 L575.4,253.41 L575.8,249.14 L576.2,245.8 L576.7,242.51 L577.3,239.47 L578,236.84 L578.7,234.94 L579.4,233.64 L579.8,233.13 L580.2,232.77 L580.6,232.57 L581,232.51 L581.5,232.65 L581.9,232.92 L582.3,233.34 L582.7,233.92 L583.5,235.59 L584.2,237.71 L584.9,240.58 L585.5,243.86 L586,247.4 L586.7,254.35 L587,258.53 L587.3,264.03 L588.3,297.82 L589.3,259.06 L589.6,254.87 L590.3,247.94 L590.7,245.08 L591.2,242.21 L591.7,239.94 L592.3,237.81 L592.9,236.2 L593.5,235.04 L594.2,234.16 L594.5,233.93 L594.9,233.76 L595.3,233.73 L595.7,233.85 L596.1,234.11 L596.4,234.41 L597.1,235.44 L597.8,237.01 L598.4,238.84 L599,241.23 L599.5,243.76 L600,246.95 L600.4,250.14 L600.8,254.17 L601.4,262.9 L601.81,273.09 L602.93,273.17 L604.1,252.77 L604.5,249.16 L605,245.64 L605.6,242.41 L606.2,239.95 L606.8,238.08 L607.5,236.5 L608.2,235.47 L608.5,235.18 L608.9,234.92 L609.3,234.81 L609.7,234.85 L610.1,235.03 L610.4,235.26 L611.1,236.14 L611.8,237.54 L612.3,238.88 L612.8,240.58 L613.6,244.2 L614.3,248.64 L614.9,253.98 L615.3,258.86 L615.6,263.73 L616.81,291.19 L617.81,259.91 L618.4,252.9 L619.1,247.35 L619.7,243.94 L620.3,241.35 L621,239.1 L621.8,237.32 L622.2,236.7 L622.6,236.25 L623,235.94 L623.5,235.78 L624,235.84 L624.4,236.05 L624.8,236.41 L625.2,236.92 L625.9,238.22 L626.5,239.79 L627.1,241.86 L627.6,244.05 L628.1,246.79 L628.5,249.49 L628.9,252.82 L629.3,257.04 L629.9,266.44 L630.9,305.76 L631.9,262.62 L632.1,259.65 L632.4,255.96 L632.8,252.07 L633.2,248.98 L633.6,246.47 L634.1,243.92 L634.7,241.54 L635.3,239.73 L635.9,238.39 L636.6,237.33 L636.9,237.03 L637.3,236.76 L637.7,236.63 L638.1,236.65 L638.5,236.82 L638.8,237.05 L639.5,237.9 L640.2,239.27 L640.9,241.22 L641.5,243.46 L642.1,246.38 L642.6,249.51 L643,252.64 L643.4,256.58 L644,265.08 L644.46,276.31 L645.46,279.83 L646.46,258.51 L646.8,254.78 L647.2,251.3 L647.7,247.89 L648.2,245.21 L648.8,242.71 L649.5,240.53 L650.2,238.99 L650.6,238.36 L651,237.89 L651.4,237.57 L651.8,237.41 L652.2,237.39 L652.6,237.51 L653,237.78 L653.4,238.21 L654.1,239.34 L654.6,240.47 L655,241.6 L655.8,244.58 L656.5,248.21 L657.1,252.43 L657.6,257.18 L658,262.32 L658.3,267.51 L658.58,274.37 L659.58,284.32 L660.58,260.27 L661.1,254.61 L661.7,249.91 L662.2,246.95 L662.7,244.6 L663.2,242.72 L663.8,240.97 L664.4,239.68 L665.1,238.66 L665.7,238.18 L666,238.07 L666.4,238.04 L666.9,238.21 L667.3,238.52 L667.7,238.97 L668.1,239.59 L668.9,241.35 L669.7,243.94 L670.4,247.09 L671,250.72 L671.5,254.7 L672,260.06 L672.46,267.15 L673.46,328.7 L674.46,265.95 L674.6,263.63 L675,258.37 L675.4,254.4 L675.9,250.57 L676.4,247.59 L677,244.82 L677.7,242.4 L678.5,240.46 L678.9,239.77 L679.3,239.25 L679.6,238.96 L680,238.71 L680.4,238.6 L680.8,238.64 L681.2,238.83 L681.6,239.17 L682.3,240.13 L683,241.61 L683.6,243.37 L684.2,245.67 L684.8,248.68 L685.6,254.27 L686.2,260.46 L686.6,266.4 L686.95,273.9 L687.95,288.6 L688.95,262.17 L689.4,256.87 L690,251.83 L690.8,247.13 L691.2,245.36 L691.7,243.54 L692.1,242.36 L692.6,241.18 L693.3,240 L693.6,239.64 L694,239.31 L694.4,239.13 L694.8,239.09 L695.2,239.19 L695.5,239.37 L696.2,240.12 L696.9,241.36 L697.6,243.17 L698.2,245.26 L698.8,247.99 L699.3,250.91 L699.8,254.64 L700.2,258.47 L700.6,263.49 L700.9,268.52 L701.33,279.8 L702.36,279.83 L703.38,259.75 L704.1,253.07 L704.6,249.75 L705.1,247.13 L705.7,244.68 L706.3,242.81 L707,241.22 L707.7,240.17 L708,239.87 L708.4,239.61 L708.8,239.49 L709.2,239.52 L709.6,239.7 L710,240.02 L710.7,240.96 L711.3,242.18 L711.8,243.52 L712.3,245.22 L712.8,247.33 L713.3,249.98 L713.7,252.59 L714.4,258.73 L714.9,265.22 L715.23,271.36 L716.23,300.18 L717.23,264.96 L717.8,257.86 L718.4,252.76 L719,249.03 L719.6,246.21 L720.3,243.74 L721.1,241.77 L721.5,241.06 L721.9,240.51 L722.3,240.13 L722.7,239.9 L723.1,239.81 L723.6,239.91 L724,240.15 L724.4,240.54 L725.1,241.62 L725.7,242.96 L726.3,244.77 L726.8,246.69 L727.3,249.1 L727.7,251.45 L728.1,254.32 L728.5,257.89 L729,263.86 L729.43,271.4 L730.43,301.7 L731.43,265.41 L731.6,262.91 L732.1,257.25 L732.8,251.73 L733.6,247.38 L734.1,245.36 L734.6,243.74 L735.4,241.85 L735.8,241.18 L736.3,240.57 L736.7,240.26 L737.2,240.07 L737.7,240.12 L738.1,240.32 L738.6,240.78 L739,241.32 L739.4,242.03 L739.8,242.92 L740.6,245.32 L741.3,248.25 L741.8,250.99 L742.3,254.47 L742.7,258.01 L743.1,262.57 L743.5,268.82 L744.73,293.33 L745.73,264.19 L746.2,258.55 L746.7,254.12 L747.2,250.75 L747.7,248.09 L748.2,245.96 L748.8,243.97 L749.5,242.25 L750.2,241.1 L750.5,240.76 L750.9,240.44 L751.2,240.3 L751.6,240.24 L752.1,240.37 L752.5,240.64 L752.9,241.05 L753.3,241.63 L754.1,243.31 L754.8,245.44 L755.4,247.88 L756,251.08 L756.5,254.54 L757,259.08 L757.4,263.94 L757.75,269.83 L758.75,317.77 L759.75,267.28 L760.3,259.85 L760.8,255.12 L761.3,251.55 L761.9,248.26 L762.6,245.39 L763.4,243.06 L763.8,242.19 L764.2,241.51 L764.6,240.99 L765,240.63 L765.4,240.41 L765.9,240.35 L766.4,240.52 L766.8,240.82 L767.3,241.41 L767.7,242.06 L768.5,243.91 L769.3,246.63 L770,249.94 L770.6,253.78 L771.1,258.04 L771.6,263.87 L771.92,269.01 L772.92,337.91 L773.92,268.15 L774.2,263.74 L774.7,257.95 L775.2,253.72 L775.8,249.9 L776.5,246.61 L777.3,243.91 L777.7,242.89 L778.2,241.89 L778.6,241.28 L779.1,240.75 L779.5,240.49 L780,240.38" stroke="#ffe560" stroke-width="1.5"/>
</g>
<g font-size="10.67" fill="#111"><text x="55.5" y="470.8" text-anchor="middle">0</text><text x="128.5" y="470.8" text-anchor="middle">0.1</text><text x="200.5" y="470.8" text-anchor="middle">0.2</text><text x="273.5" y="470.8" text-anchor="middle">0.3</text><text x="345.5" y="470.8" text-anchor="middle">0.4</text><text x="418.5" y="470.8" text-anchor="middle">0.5</text><text x="490.5" y="470.8" text-anchor="middle">0.6</text><text x="562.5" y="470.8" text-anchor="middle">0.7</text><text x="635.5" y="470.8" text-anchor="middle">0.8</text><text x="708.5" y="470.8" text-anchor="middle">0.9</text><text x="780.5" y="470.8" text-anchor="middle">1</text><text x="50.3" y="115.1" text-anchor="end">0</text><text x="50.3" y="158.1" text-anchor="end">-20</text><text x="50.3" y="201.1" text-anchor="end">-40</text><text x="50.3" y="244.1" text-anchor="end">-60</text><text x="50.3" y="287.1" text-anchor="end">-80</text><text x="50.3" y="329.1" text-anchor="end">-100</text><text x="50.3" y="372.1" text-anchor="end">-120</text><text x="50.3" y="415.1" text-anchor="end">-140</text><text x="50.3" y="458.1" text-anchor="end">-160</text></g>
</svg>
</body></html>
